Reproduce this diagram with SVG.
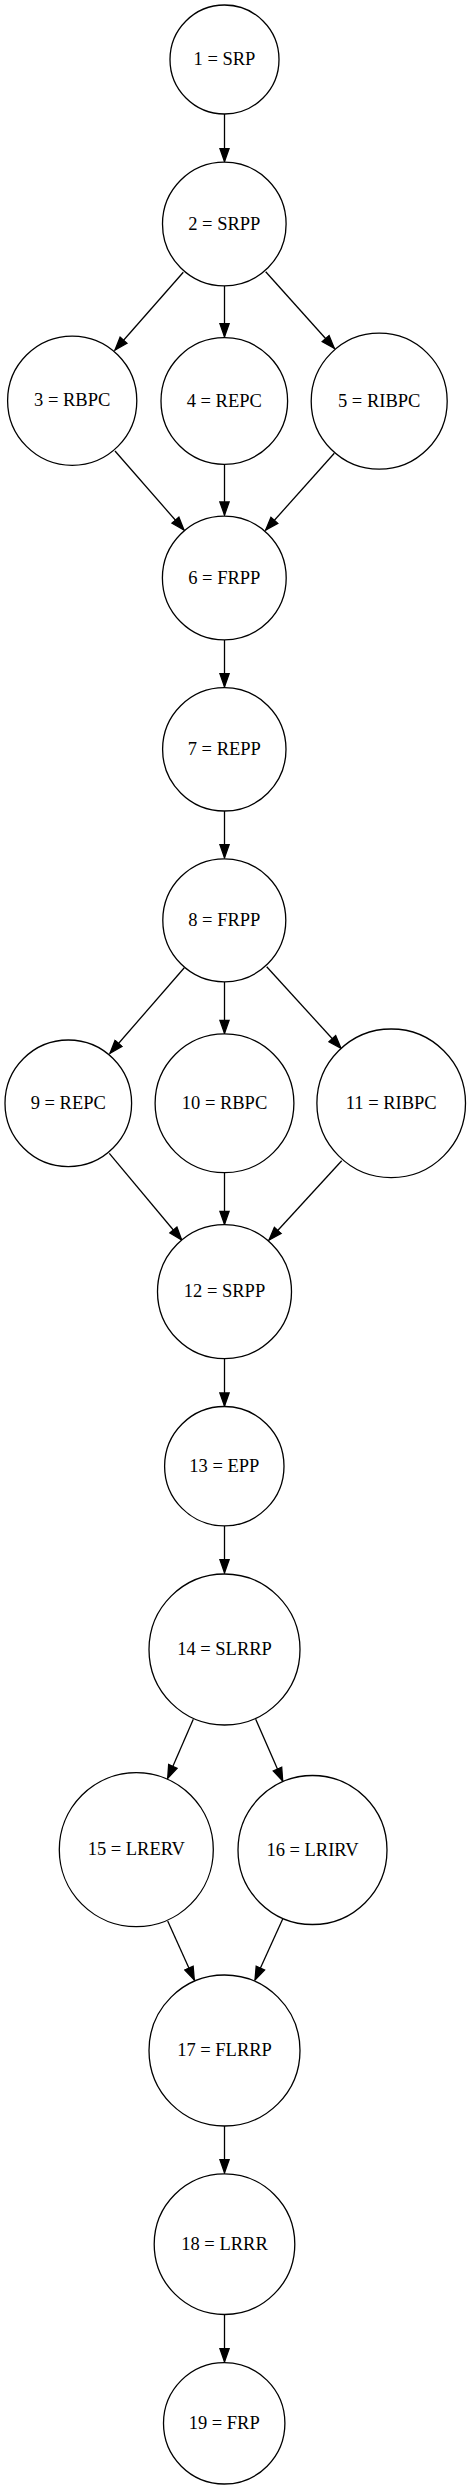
<svg xmlns="http://www.w3.org/2000/svg" width="470" height="2489" viewBox="0 0 470 2489">
<style>
.n circle{fill:#fff;stroke:#000;stroke-width:1.3}
.n text{font-family:"Liberation Serif","Times New Roman",serif;font-size:18.5px;text-anchor:middle;fill:#000}
.e line{stroke:#000;stroke-width:1.3;marker-end:url(#ah)}
</style>
<defs>
<marker id="ah" markerUnits="userSpaceOnUse" markerWidth="16" markerHeight="12" viewBox="-1 -6 16 12" refX="13" refY="0" orient="auto">
<path d="M0,-4.6 L13,0 L0,4.6 Z" fill="#000" stroke="#000" stroke-width="1.3"/>
</marker>
</defs>
<rect width="470" height="2489" fill="#fff"/>
<g id="edges" class="e">
<line x1="224.5" y1="114" x2="224.5" y2="161.5"/>
<line x1="183.3" y1="272.3" x2="115" y2="350"/>
<line x1="224.5" y1="285.7" x2="224.5" y2="336.7"/>
<line x1="265.7" y1="271.7" x2="334.3" y2="348.3"/>
<line x1="115" y1="451" x2="184" y2="530"/>
<line x1="224.5" y1="464.3" x2="224.5" y2="515"/>
<line x1="334.3" y1="453.3" x2="265.7" y2="530"/>
<line x1="224.5" y1="640" x2="224.5" y2="686.7"/>
<line x1="224.5" y1="811" x2="224.5" y2="857.7"/>
<line x1="184.3" y1="967.7" x2="110" y2="1053.3"/>
<line x1="224.5" y1="981.7" x2="224.5" y2="1033.3"/>
<line x1="266.7" y1="966.7" x2="341" y2="1048.3"/>
<line x1="109.3" y1="1153.3" x2="181.7" y2="1240"/>
<line x1="224.5" y1="1172.7" x2="224.5" y2="1224.3"/>
<line x1="341.7" y1="1160.7" x2="269" y2="1240"/>
<line x1="224.5" y1="1358.3" x2="224.5" y2="1406"/>
<line x1="224.5" y1="1525.7" x2="224.5" y2="1572.7"/>
<line x1="193.3" y1="1719.3" x2="167.7" y2="1778.3"/>
<line x1="255.7" y1="1719.3" x2="282.7" y2="1781"/>
<line x1="167.7" y1="1921" x2="194.3" y2="1980"/>
<line x1="282.7" y1="1919" x2="255" y2="1980"/>
<line x1="224.5" y1="2126" x2="224.5" y2="2172.7"/>
<line x1="224.5" y1="2314.3" x2="224.5" y2="2361.7"/>
</g>
<g id="n1" class="n"><circle cx="224.5" cy="59.5" r="54.5"/><text x="224.5" y="65.2">1 = SRP</text></g>
<g id="n2" class="n"><circle cx="224.3" cy="224" r="61.8"/><text x="224.3" y="229.7">2 = SRPP</text></g>
<g id="n3" class="n"><circle cx="72.2" cy="400.7" r="64.6"/><text x="72.2" y="406.4">3 = RBPC</text></g>
<g id="n4" class="n"><circle cx="224.3" cy="401" r="63.3"/><text x="224.3" y="406.7">4 = REPC</text></g>
<g id="n5" class="n"><circle cx="379.2" cy="401.2" r="68"/><text x="379.2" y="406.9">5 = RIBPC</text></g>
<g id="n6" class="n"><circle cx="224.3" cy="578" r="61.9"/><text x="224.3" y="583.7">6 = FRPP</text></g>
<g id="n7" class="n"><circle cx="224.3" cy="749.3" r="61.7"/><text x="224.3" y="755">7 = REPP</text></g>
<g id="n8" class="n"><circle cx="224.3" cy="920.3" r="61.5"/><text x="224.3" y="926">8 = FRPP</text></g>
<g id="n9" class="n"><circle cx="68.3" cy="1103.3" r="63.3"/><text x="68.3" y="1109">9 = REPC</text></g>
<g id="n10" class="n"><circle cx="224.5" cy="1103.3" r="69.4"/><text x="224.5" y="1109">10 = RBPC</text></g>
<g id="n11" class="n"><circle cx="391.2" cy="1103.3" r="74.3"/><text x="391.2" y="1109">11 = RIBPC</text></g>
<g id="n12" class="n"><circle cx="224.5" cy="1291.7" r="67"/><text x="224.5" y="1297.4">12 = SRPP</text></g>
<g id="n13" class="n"><circle cx="224.3" cy="1466.2" r="59.7"/><text x="224.3" y="1471.9">13 = EPP</text></g>
<g id="n14" class="n"><circle cx="224.5" cy="1649.5" r="75.5"/><text x="224.5" y="1655.2">14 = SLRRP</text></g>
<g id="n15" class="n"><circle cx="136.3" cy="1849.7" r="77"/><text x="136.3" y="1855.4">15 = LRERV</text></g>
<g id="n16" class="n"><circle cx="312.5" cy="1850" r="74.5"/><text x="312.5" y="1855.7">16 = LRIRV</text></g>
<g id="n17" class="n"><circle cx="224.5" cy="2050.5" r="75.5"/><text x="224.5" y="2056.2">17 = FLRRP</text></g>
<g id="n18" class="n"><circle cx="224.5" cy="2244.2" r="70.3"/><text x="224.5" y="2249.9">18 = LRRR</text></g>
<g id="n19" class="n"><circle cx="224.2" cy="2423.3" r="60.7"/><text x="224.2" y="2429">19 = FRP</text></g>
</svg>
